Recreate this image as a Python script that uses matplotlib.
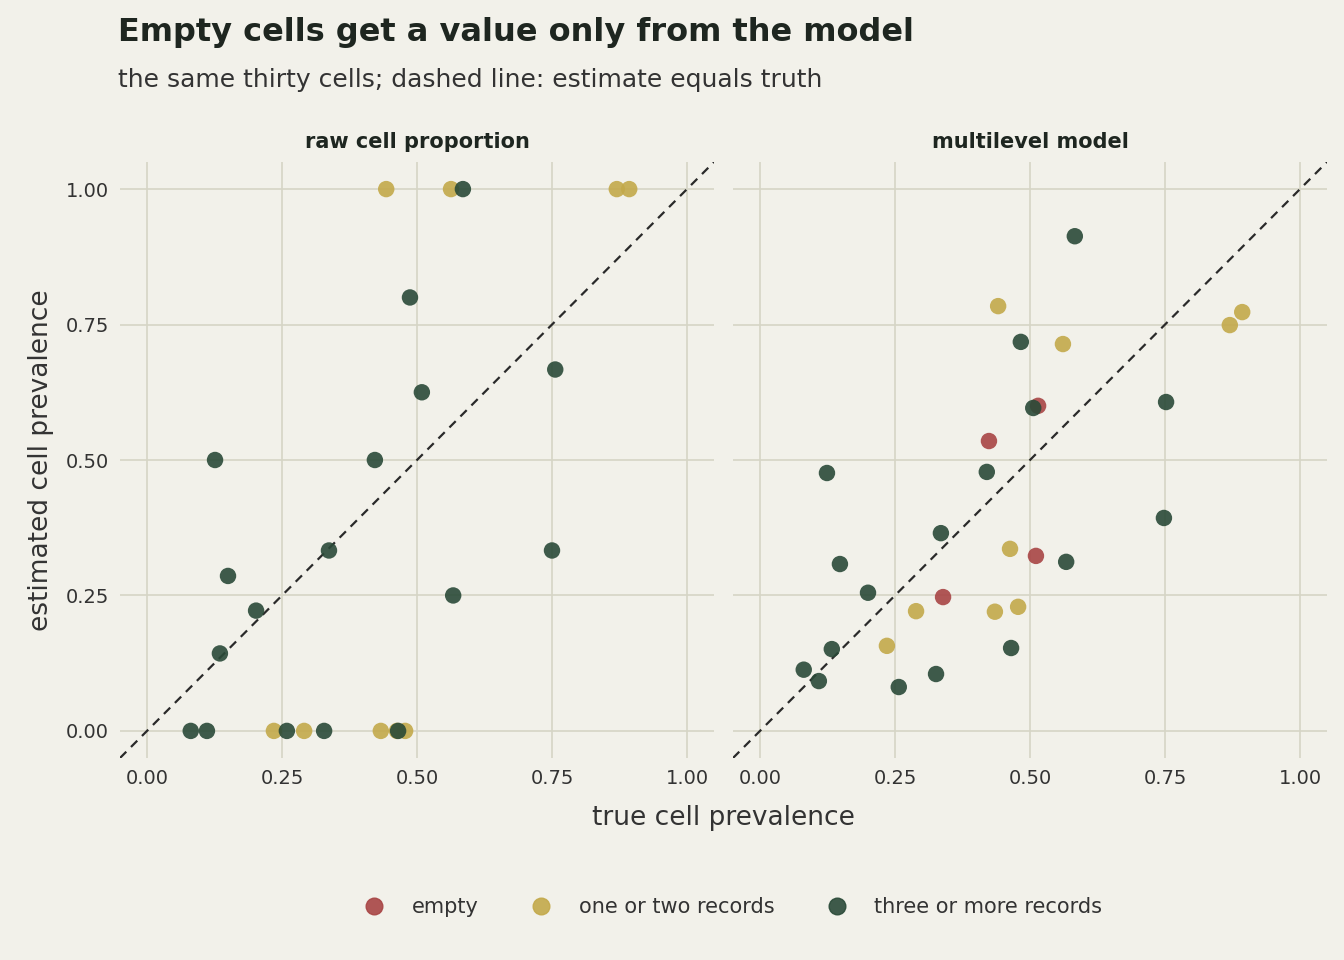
import numpy as np
import matplotlib.pyplot as plt
from matplotlib.lines import Line2D

# --- data ---
raw_dark_x = [0.081, 0.111, 0.126, 0.135, 0.150, 0.202, 0.259, 0.328, 0.337, 0.422,
              0.465, 0.487, 0.509, 0.567, 0.585, 0.750, 0.756]
raw_dark_y = [0.0, 0.0, 0.5, 0.143, 0.286, 0.222, 0.0, 0.0, 0.333, 0.5,
              0.0, 0.8, 0.625, 0.25, 1.0, 0.333, 0.667]
raw_few_x = [0.235, 0.291, 0.433, 0.443, 0.463, 0.478, 0.563, 0.870, 0.893]
raw_few_y = [0.0, 0.0, 0.0, 1.0, 0.0, 0.0, 1.0, 1.0, 1.0]

mlm_dark_x = [0.081, 0.109, 0.124, 0.133, 0.148, 0.200, 0.257, 0.326, 0.335, 0.420,
              0.465, 0.483, 0.506, 0.567, 0.583, 0.752, 0.748]
mlm_dark_y = [0.113, 0.092, 0.476, 0.151, 0.308, 0.255, 0.081, 0.105, 0.365, 0.478,
              0.153, 0.718, 0.596, 0.312, 0.913, 0.607, 0.393]
mlm_few_x = [0.235, 0.289, 0.435, 0.441, 0.463, 0.478, 0.561, 0.870, 0.893]
mlm_few_y = [0.157, 0.221, 0.220, 0.784, 0.336, 0.229, 0.714, 0.749, 0.773]
mlm_empty_x = [0.339, 0.424, 0.511, 0.515]
mlm_empty_y = [0.247, 0.535, 0.323, 0.600]

BG = "#F2F1EA"
GRID = "#D6D5C5"
C_EMPTY = "#A84545"
C_FEW = "#C3A94A"
C_MANY = "#2A4A38"
TXT = "#1E2620"

fig = plt.figure(figsize=(13.44, 9.6), dpi=100, facecolor=BG)
W, H = 1344, 960
ax_l = fig.add_axes([120 / W, 1 - 758 / H, 594 / W, 596 / H])
ax_r = fig.add_axes([733 / W, 1 - 758 / H, 594 / W, 596 / H])

ticks = [0, 0.25, 0.5, 0.75, 1.0]
ticklabels = ["0.00", "0.25", "0.50", "0.75", "1.00"]

panels = [
    (ax_l, "raw cell proportion", [], [], raw_few_x, raw_few_y, raw_dark_x, raw_dark_y),
    (ax_r, "multilevel model", mlm_empty_x, mlm_empty_y, mlm_few_x, mlm_few_y,
     mlm_dark_x, mlm_dark_y),
]
for ax, title, ex, ey, fx, fy, dx, dy in panels:
    ax.set_facecolor(BG)
    for s in ax.spines.values():
        s.set_visible(False)
    ax.set_xlim(-0.05, 1.05)
    ax.set_ylim(-0.05, 1.05)
    ax.set_xticks(ticks)
    ax.set_xticklabels(ticklabels)
    ax.set_yticks(ticks)
    ax.set_yticklabels(ticklabels)
    ax.grid(True, color=GRID, linewidth=1.2)
    ax.set_axisbelow(True)
    ax.tick_params(length=0, labelsize=14, colors="#333333", pad=8)
    ax.plot([-0.05, 1.05], [-0.05, 1.05], ls=(0, (4, 3)), color="#2a2a2a", lw=1.6, zorder=2)
    for xs, ys, c in [(ex, ey, C_EMPTY), (fx, fy, C_FEW), (dx, dy, C_MANY)]:
        ax.scatter(xs, ys, s=140, color=c, alpha=0.9, edgecolors="none", zorder=3)
    ax.set_title(title, fontsize=15, fontweight="bold", color=TXT, pad=10)

ax_r.tick_params(labelleft=False)
ax_l.set_ylabel("estimated cell prevalence", fontsize=19, color="#333333", labelpad=8)
fig.text(723 / W, 1 - 818 / H, "true cell prevalence", fontsize=19, color="#333333",
         ha="center", va="center")

fig.text(118 / W, 1 - 32 / H, "Empty cells get a value only from the model",
         fontsize=23, fontweight="bold", color=TXT, va="center")
fig.text(118 / W, 1 - 80 / H, "the same thirty cells; dashed line: estimate equals truth",
         fontsize=18, color="#333333", va="center")

handles = [Line2D([], [], marker="o", ls="", color=c, markersize=12, alpha=0.9)
           for c in (C_EMPTY, C_FEW, C_MANY)]
fig.legend(handles, ["empty", "one or two records", "three or more records"],
           loc="center", bbox_to_anchor=(728 / W, 1 - 907 / H), ncol=3, frameon=False,
           fontsize=15, handletextpad=0.8, columnspacing=2.0, labelcolor="#333333")

fig.savefig("out.png", dpi=100, facecolor=BG)
